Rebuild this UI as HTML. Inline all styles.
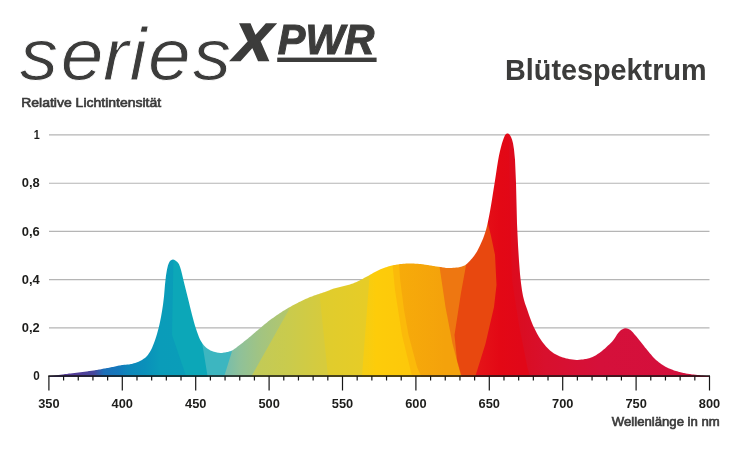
<!DOCTYPE html>
<html lang="de"><head><meta charset="utf-8"><title>series X PWR – Blütespektrum</title>
<style>
html,body{margin:0;padding:0;background:#fff;}
body{width:736px;height:457px;overflow:hidden;font-family:"Liberation Sans",sans-serif;}
svg{display:block;}
.g line{stroke:#b5b5b5;stroke-width:1.1;}
.t line{stroke:#161616;stroke-width:1.2;}
.lab text{font-family:"Liberation Sans",sans-serif;font-weight:bold;font-size:13.3px;fill:#1d1d1b;}
.cap{font-family:"Liberation Sans",sans-serif;font-size:13.4px;fill:#3a3a3a;stroke:#3a3a3a;stroke-width:.65;}
.logo{font-family:"Liberation Sans",sans-serif;fill:#3c3c3b;}
</style></head><body>
<svg width="736" height="457" viewBox="0 0 736 457">
<defs><linearGradient id="g1" gradientUnits="userSpaceOnUse" x1="49" y1="0" x2="215" y2="0"><stop offset="0.0000" stop-color="#5b3b95"/><stop offset="0.1867" stop-color="#523f99"/><stop offset="0.2711" stop-color="#46479d"/><stop offset="0.3313" stop-color="#1c70b9"/><stop offset="0.4157" stop-color="#1478bc"/><stop offset="0.4759" stop-color="#0d87bb"/><stop offset="0.5843" stop-color="#0a91ba"/><stop offset="0.6687" stop-color="#0a9cb9"/><stop offset="1.0000" stop-color="#0a9eb9"/></linearGradient><linearGradient id="g2" gradientUnits="userSpaceOnUse" x1="224" y1="0" x2="290" y2="0"><stop offset="0.0000" stop-color="#74bdae"/><stop offset="0.2424" stop-color="#8fc199"/><stop offset="0.5758" stop-color="#a3c480"/><stop offset="1.0000" stop-color="#b4c76a"/></linearGradient><linearGradient id="g3" gradientUnits="userSpaceOnUse" x1="255" y1="0" x2="322" y2="0"><stop offset="0.0000" stop-color="#c2ca58"/><stop offset="0.5224" stop-color="#cacb4c"/><stop offset="1.0000" stop-color="#d6cb3d"/></linearGradient><linearGradient id="g4" gradientUnits="userSpaceOnUse" x1="318" y1="0" x2="364" y2="0"><stop offset="0.0000" stop-color="#dfcc2e"/><stop offset="1.0000" stop-color="#e6cc27"/></linearGradient><linearGradient id="g5" gradientUnits="userSpaceOnUse" x1="366" y1="0" x2="410" y2="0"><stop offset="0.0000" stop-color="#f6cd13"/><stop offset="0.2273" stop-color="#fdcc0a"/><stop offset="1.0000" stop-color="#fdc80a"/></linearGradient><linearGradient id="g6" gradientUnits="userSpaceOnUse" x1="399" y1="0" x2="445" y2="0"><stop offset="0.0000" stop-color="#f7ab0a"/><stop offset="1.0000" stop-color="#f4a20b"/></linearGradient><linearGradient id="g7" gradientUnits="userSpaceOnUse" x1="477" y1="0" x2="520" y2="0"><stop offset="0.0000" stop-color="#e51418"/><stop offset="0.5349" stop-color="#e30815"/><stop offset="1.0000" stop-color="#e10718"/></linearGradient><linearGradient id="g8" gradientUnits="userSpaceOnUse" x1="508" y1="0" x2="709" y2="0"><stop offset="0.0000" stop-color="#df0a1b"/><stop offset="0.0697" stop-color="#da0d22"/><stop offset="0.1841" stop-color="#d8102d"/><stop offset="0.4577" stop-color="#d5103a"/><stop offset="1.0000" stop-color="#d40f3d"/></linearGradient><mask id="cv" maskUnits="userSpaceOnUse" x="0" y="0" width="736" height="457"><path d="M49,377 L49.0,376.2 L50.0,376.1 L51.0,375.9 L52.0,375.8 L53.0,375.7 L54.0,375.6 L55.0,375.4 L56.0,375.3 L57.0,375.2 L58.0,375.0 L59.0,374.9 L60.0,374.8 L61.0,374.7 L62.0,374.5 L63.0,374.4 L64.0,374.3 L65.0,374.1 L66.0,374.0 L67.0,373.9 L68.0,373.8 L69.0,373.6 L70.0,373.5 L71.0,373.4 L72.0,373.3 L73.0,373.2 L74.0,373.0 L75.0,372.9 L76.0,372.8 L77.0,372.7 L78.0,372.6 L79.0,372.4 L80.0,372.3 L81.0,372.2 L82.0,372.1 L83.0,371.9 L84.0,371.8 L85.0,371.7 L86.0,371.5 L87.0,371.4 L88.0,371.3 L89.0,371.1 L90.0,371.0 L91.0,370.8 L92.0,370.7 L93.0,370.5 L94.0,370.4 L95.0,370.2 L96.0,370.0 L97.0,369.9 L98.0,369.7 L99.0,369.5 L100.0,369.4 L101.0,369.2 L102.0,369.0 L103.0,368.8 L104.0,368.6 L105.0,368.4 L106.0,368.3 L107.0,368.1 L108.0,367.9 L109.0,367.7 L110.0,367.5 L111.0,367.3 L112.0,367.1 L113.0,366.9 L114.0,366.7 L115.0,366.4 L116.0,366.2 L117.0,366.0 L118.0,365.8 L119.0,365.6 L120.0,365.4 L121.0,365.2 L122.0,365.1 L123.0,364.9 L124.0,364.8 L125.0,364.8 L126.0,364.7 L127.0,364.6 L128.0,364.5 L129.0,364.4 L130.0,364.3 L131.0,364.1 L132.0,363.9 L133.0,363.6 L134.0,363.3 L135.0,363.0 L136.0,362.7 L137.0,362.3 L138.0,361.9 L139.0,361.5 L140.0,361.0 L141.0,360.5 L142.0,359.9 L143.0,359.3 L144.0,358.6 L145.0,357.9 L146.0,357.0 L147.0,356.0 L148.0,354.7 L149.0,353.3 L150.0,351.7 L151.0,350.0 L152.0,347.9 L153.0,345.6 L154.0,343.0 L155.0,340.3 L156.0,337.3 L157.0,334.0 L158.0,330.3 L159.0,326.4 L160.0,322.0 L161.0,316.9 L162.0,311.3 L163.0,304.7 L164.0,296.5 L165.0,284.6 L166.0,275.6 L167.0,269.5 L168.0,265.3 L169.0,262.7 L170.0,261.0 L171.0,260.2 L172.0,259.7 L173.0,259.5 L174.0,259.8 L175.0,260.3 L176.0,260.9 L177.0,261.7 L178.0,262.8 L179.0,264.3 L180.0,266.8 L181.0,270.0 L182.0,273.9 L183.0,278.2 L184.0,282.4 L185.0,286.4 L186.0,290.4 L187.0,294.5 L188.0,298.5 L189.0,302.6 L190.0,306.7 L191.0,310.8 L192.0,314.8 L193.0,318.6 L194.0,322.2 L195.0,325.7 L196.0,328.8 L197.0,331.8 L198.0,334.6 L199.0,337.2 L200.0,339.4 L201.0,341.2 L202.0,342.8 L203.0,344.2 L204.0,345.5 L205.0,346.5 L206.0,347.4 L207.0,348.3 L208.0,349.0 L209.0,349.6 L210.0,350.2 L211.0,350.7 L212.0,351.1 L213.0,351.5 L214.0,351.8 L215.0,352.0 L216.0,352.3 L217.0,352.5 L218.0,352.7 L219.0,352.8 L220.0,352.9 L221.0,352.9 L222.0,352.9 L223.0,352.8 L224.0,352.6 L225.0,352.5 L226.0,352.3 L227.0,352.1 L228.0,351.9 L229.0,351.6 L230.0,351.3 L231.0,350.9 L232.0,350.5 L233.0,350.0 L234.0,349.3 L235.0,348.6 L236.0,347.9 L237.0,347.1 L238.0,346.3 L239.0,345.5 L240.0,344.7 L241.0,343.9 L242.0,343.2 L243.0,342.4 L244.0,341.6 L245.0,340.8 L246.0,340.0 L247.0,339.2 L248.0,338.4 L249.0,337.5 L250.0,336.7 L251.0,335.9 L252.0,335.0 L253.0,334.2 L254.0,333.3 L255.0,332.4 L256.0,331.6 L257.0,330.7 L258.0,329.9 L259.0,329.0 L260.0,328.2 L261.0,327.4 L262.0,326.5 L263.0,325.7 L264.0,324.8 L265.0,324.0 L266.0,323.2 L267.0,322.4 L268.0,321.6 L269.0,320.8 L270.0,320.1 L271.0,319.3 L272.0,318.6 L273.0,317.9 L274.0,317.2 L275.0,316.5 L276.0,315.8 L277.0,315.1 L278.0,314.4 L279.0,313.7 L280.0,313.1 L281.0,312.4 L282.0,311.8 L283.0,311.1 L284.0,310.5 L285.0,309.9 L286.0,309.3 L287.0,308.7 L288.0,308.1 L289.0,307.5 L290.0,307.0 L291.0,306.4 L292.0,305.8 L293.0,305.3 L294.0,304.8 L295.0,304.2 L296.0,303.7 L297.0,303.2 L298.0,302.7 L299.0,302.1 L300.0,301.7 L301.0,301.2 L302.0,300.7 L303.0,300.2 L304.0,299.7 L305.0,299.3 L306.0,298.8 L307.0,298.4 L308.0,298.0 L309.0,297.5 L310.0,297.1 L311.0,296.7 L312.0,296.4 L313.0,296.0 L314.0,295.6 L315.0,295.3 L316.0,294.9 L317.0,294.6 L318.0,294.2 L319.0,293.9 L320.0,293.5 L321.0,293.2 L322.0,292.9 L323.0,292.5 L324.0,292.2 L325.0,291.9 L326.0,291.5 L327.0,291.2 L328.0,290.8 L329.0,290.4 L330.0,290.0 L331.0,289.6 L332.0,289.2 L333.0,288.8 L334.0,288.5 L335.0,288.2 L336.0,287.9 L337.0,287.7 L338.0,287.4 L339.0,287.2 L340.0,287.0 L341.0,286.8 L342.0,286.5 L343.0,286.3 L344.0,286.1 L345.0,285.8 L346.0,285.6 L347.0,285.3 L348.0,285.0 L349.0,284.7 L350.0,284.4 L351.0,284.1 L352.0,283.7 L353.0,283.4 L354.0,283.0 L355.0,282.6 L356.0,282.2 L357.0,281.7 L358.0,281.3 L359.0,280.8 L360.0,280.3 L361.0,279.7 L362.0,279.2 L363.0,278.7 L364.0,278.1 L365.0,277.6 L366.0,277.1 L367.0,276.5 L368.0,275.9 L369.0,275.4 L370.0,274.8 L371.0,274.2 L372.0,273.7 L373.0,273.1 L374.0,272.6 L375.0,272.0 L376.0,271.5 L377.0,270.9 L378.0,270.4 L379.0,269.9 L380.0,269.5 L381.0,269.1 L382.0,268.7 L383.0,268.3 L384.0,268.0 L385.0,267.6 L386.0,267.3 L387.0,266.9 L388.0,266.6 L389.0,266.3 L390.0,266.0 L391.0,265.7 L392.0,265.5 L393.0,265.3 L394.0,265.1 L395.0,264.9 L396.0,264.7 L397.0,264.5 L398.0,264.4 L399.0,264.2 L400.0,264.1 L401.0,264.0 L402.0,263.9 L403.0,263.8 L404.0,263.7 L405.0,263.7 L406.0,263.6 L407.0,263.6 L408.0,263.5 L409.0,263.5 L410.0,263.5 L411.0,263.5 L412.0,263.5 L413.0,263.6 L414.0,263.6 L415.0,263.7 L416.0,263.7 L417.0,263.8 L418.0,263.8 L419.0,263.9 L420.0,264.0 L421.0,264.1 L422.0,264.2 L423.0,264.3 L424.0,264.5 L425.0,264.7 L426.0,264.8 L427.0,265.0 L428.0,265.1 L429.0,265.3 L430.0,265.4 L431.0,265.6 L432.0,265.8 L433.0,265.9 L434.0,266.1 L435.0,266.2 L436.0,266.4 L437.0,266.5 L438.0,266.7 L439.0,266.8 L440.0,267.0 L441.0,267.1 L442.0,267.3 L443.0,267.5 L444.0,267.6 L445.0,267.7 L446.0,267.9 L447.0,267.9 L448.0,268.0 L449.0,268.0 L450.0,268.0 L451.0,268.0 L452.0,267.9 L453.0,267.8 L454.0,267.8 L455.0,267.7 L456.0,267.6 L457.0,267.5 L458.0,267.4 L459.0,267.2 L460.0,267.0 L461.0,266.8 L462.0,266.5 L463.0,266.1 L464.0,265.7 L465.0,265.2 L466.0,264.5 L467.0,263.7 L468.0,262.8 L469.0,261.7 L470.0,260.7 L471.0,259.6 L472.0,258.5 L473.0,257.2 L474.0,255.9 L475.0,254.5 L476.0,253.0 L477.0,251.4 L478.0,249.6 L479.0,247.6 L480.0,245.5 L481.0,243.3 L482.0,241.1 L483.0,238.7 L484.0,236.0 L485.0,233.1 L486.0,229.9 L487.0,226.0 L488.0,221.5 L489.0,216.5 L490.0,211.3 L491.0,205.5 L492.0,199.4 L493.0,193.1 L494.0,186.8 L495.0,180.6 L496.0,174.0 L497.0,167.3 L498.0,161.0 L499.0,155.5 L500.0,151.0 L501.0,146.9 L502.0,143.3 L503.0,140.2 L504.0,137.5 L505.0,135.3 L506.0,134.1 L507.0,133.4 L508.0,133.4 L509.0,134.1 L510.0,135.2 L511.0,136.9 L512.0,139.4 L513.0,143.3 L514.0,149.5 L515.0,159.8 L516.0,183.1 L517.0,223.6 L518.0,244.9 L519.0,261.0 L520.0,273.9 L521.0,283.3 L522.0,290.5 L523.0,296.0 L524.0,300.1 L525.0,303.4 L526.0,306.3 L527.0,309.1 L528.0,312.1 L529.0,315.0 L530.0,317.8 L531.0,320.5 L532.0,323.0 L533.0,325.4 L534.0,327.6 L535.0,329.6 L536.0,331.6 L537.0,333.4 L538.0,335.2 L539.0,336.9 L540.0,338.5 L541.0,339.9 L542.0,341.4 L543.0,342.7 L544.0,344.1 L545.0,345.3 L546.0,346.5 L547.0,347.6 L548.0,348.6 L549.0,349.6 L550.0,350.4 L551.0,351.3 L552.0,352.0 L553.0,352.7 L554.0,353.4 L555.0,354.0 L556.0,354.6 L557.0,355.1 L558.0,355.6 L559.0,356.0 L560.0,356.5 L561.0,356.8 L562.0,357.2 L563.0,357.5 L564.0,357.8 L565.0,358.1 L566.0,358.4 L567.0,358.6 L568.0,358.8 L569.0,359.0 L570.0,359.2 L571.0,359.3 L572.0,359.5 L573.0,359.6 L574.0,359.7 L575.0,359.8 L576.0,359.9 L577.0,359.9 L578.0,359.9 L579.0,359.8 L580.0,359.7 L581.0,359.6 L582.0,359.5 L583.0,359.4 L584.0,359.2 L585.0,359.1 L586.0,358.9 L587.0,358.7 L588.0,358.5 L589.0,358.2 L590.0,357.9 L591.0,357.5 L592.0,357.2 L593.0,356.8 L594.0,356.3 L595.0,355.8 L596.0,355.2 L597.0,354.5 L598.0,353.8 L599.0,353.2 L600.0,352.5 L601.0,351.7 L602.0,350.9 L603.0,350.1 L604.0,349.3 L605.0,348.4 L606.0,347.5 L607.0,346.6 L608.0,345.6 L609.0,344.7 L610.0,343.7 L611.0,342.8 L612.0,341.7 L613.0,340.6 L614.0,339.3 L615.0,337.7 L616.0,336.2 L617.0,334.6 L618.0,333.3 L619.0,332.1 L620.0,331.0 L621.0,330.1 L622.0,329.5 L623.0,329.0 L624.0,328.5 L625.0,328.3 L626.0,328.3 L627.0,328.5 L628.0,328.8 L629.0,329.2 L630.0,329.7 L631.0,330.4 L632.0,331.5 L633.0,332.6 L634.0,333.7 L635.0,334.9 L636.0,336.1 L637.0,337.3 L638.0,338.6 L639.0,339.8 L640.0,341.0 L641.0,342.2 L642.0,343.5 L643.0,344.8 L644.0,346.1 L645.0,347.4 L646.0,348.6 L647.0,349.8 L648.0,351.0 L649.0,352.2 L650.0,353.4 L651.0,354.6 L652.0,355.7 L653.0,356.9 L654.0,358.0 L655.0,359.0 L656.0,359.9 L657.0,360.8 L658.0,361.6 L659.0,362.4 L660.0,363.1 L661.0,363.9 L662.0,364.5 L663.0,365.2 L664.0,365.8 L665.0,366.4 L666.0,366.9 L667.0,367.5 L668.0,367.9 L669.0,368.4 L670.0,368.8 L671.0,369.2 L672.0,369.6 L673.0,370.0 L674.0,370.4 L675.0,370.7 L676.0,371.0 L677.0,371.3 L678.0,371.6 L679.0,371.9 L680.0,372.1 L681.0,372.4 L682.0,372.6 L683.0,372.9 L684.0,373.1 L685.0,373.3 L686.0,373.5 L687.0,373.7 L688.0,373.8 L689.0,374.0 L690.0,374.1 L691.0,374.3 L692.0,374.4 L693.0,374.5 L694.0,374.6 L695.0,374.7 L696.0,374.8 L697.0,374.9 L698.0,375.0 L699.0,375.1 L700.0,375.3 L701.0,375.4 L702.0,375.5 L703.0,375.6 L704.0,375.7 L705.0,375.8 L706.0,375.9 L707.0,376.0 L708.0,376.1 L709.0,376.2 L709.5,377 Z" fill="#fff"/></mask></defs>
<rect width="736" height="457" fill="#fff"/>
<g class="g"><line x1="49" x2="709.5" y1="134.9" y2="134.9"/><line x1="49" x2="709.5" y1="183.2" y2="183.2"/><line x1="49" x2="709.5" y1="231.4" y2="231.4"/><line x1="49" x2="709.5" y1="279.6" y2="279.6"/><line x1="49" x2="709.5" y1="327.9" y2="327.9"/></g>
<g mask="url(#cv)"><polygon points="40.0,100.0 40.0,380.0 720,380 720,100" fill="url(#g1)"/><polygon points="176.4,100.0 173.5,255.0 172.0,335.0 186.0,376.0 187.4,380.0 720,380 720,100" fill="#0ca7b8"/><polygon points="158.3,100.0 201.5,340.0 203.3,350.0 207.6,376.5 208.2,380.0 720,380 720,100" fill="#3db6c0"/><polygon points="278.7,100.0 233.0,345.0 231.6,352.5 224.6,375.0 223.0,380.0 720,380 720,100" fill="url(#g2)"/><polygon points="384.2,100.0 291.0,305.0 288.5,310.5 255.0,370.0 249.4,380.0 720,380 720,100" fill="url(#g3)"/><polygon points="299.2,100.0 318.0,280.0 328.0,376.0 328.4,380.0 720,380 720,100" fill="url(#g4)"/><polygon points="382.8,100.0 370.0,270.0 362.0,376.0 361.7,380.0 720,380 720,100" fill="url(#g5)"/><polygon points="376.7,100.0 392.5,264.0 395.0,290.0 402.0,335.0 412.0,376.0 413.0,380.0 720,380 720,100" fill="#fbba0a"/><polygon points="387.7,100.0 399.0,264.0 400.0,278.5 404.0,310.0 408.5,335.0 417.0,367.0 421.0,376.0 422.8,380.0 720,380 720,100" fill="url(#g6)"/><polygon points="414.9,100.0 439.8,268.5 445.5,307.0 452.6,344.0 461.0,376.0 462.1,380.0 720,380 720,100" fill="#ee7711"/><polygon points="496.6,100.0 466.0,265.6 461.0,292.7 454.5,335.0 457.0,360.0 461.5,376.0 462.6,380.0 720,380 720,100" fill="#e8480f"/><polygon points="457.5,100.0 487.8,223.0 491.0,236.0 495.0,255.0 496.5,285.0 494.0,307.0 485.4,344.0 475.4,376.0 474.1,380.0 720,380 720,100" fill="url(#g7)"/><polygon points="508.1,100.0 509.0,150.0 510.0,205.0 512.0,280.0 518.8,324.0 527.5,368.0 530.0,376.0 531.2,380.0 720,380 720,100" fill="url(#g8)"/></g>
<g class="t"><line x1="48.3" x2="710" y1="376.1" y2="376.1" style="stroke-width:1.5"/><line x1="48.90" x2="48.90" y1="376" y2="390.5"/><line x1="63.58" x2="63.58" y1="376" y2="380.5"/><line x1="78.26" x2="78.26" y1="376" y2="380.5"/><line x1="92.94" x2="92.94" y1="376" y2="380.5"/><line x1="107.62" x2="107.62" y1="376" y2="380.5"/><line x1="122.30" x2="122.30" y1="376" y2="390.5"/><line x1="136.98" x2="136.98" y1="376" y2="380.5"/><line x1="151.66" x2="151.66" y1="376" y2="380.5"/><line x1="166.34" x2="166.34" y1="376" y2="380.5"/><line x1="181.02" x2="181.02" y1="376" y2="380.5"/><line x1="195.70" x2="195.70" y1="376" y2="390.5"/><line x1="210.38" x2="210.38" y1="376" y2="380.5"/><line x1="225.06" x2="225.06" y1="376" y2="380.5"/><line x1="239.74" x2="239.74" y1="376" y2="380.5"/><line x1="254.42" x2="254.42" y1="376" y2="380.5"/><line x1="269.10" x2="269.10" y1="376" y2="390.5"/><line x1="283.78" x2="283.78" y1="376" y2="380.5"/><line x1="298.46" x2="298.46" y1="376" y2="380.5"/><line x1="313.14" x2="313.14" y1="376" y2="380.5"/><line x1="327.82" x2="327.82" y1="376" y2="380.5"/><line x1="342.50" x2="342.50" y1="376" y2="390.5"/><line x1="357.18" x2="357.18" y1="376" y2="380.5"/><line x1="371.86" x2="371.86" y1="376" y2="380.5"/><line x1="386.54" x2="386.54" y1="376" y2="380.5"/><line x1="401.22" x2="401.22" y1="376" y2="380.5"/><line x1="415.90" x2="415.90" y1="376" y2="390.5"/><line x1="430.58" x2="430.58" y1="376" y2="380.5"/><line x1="445.26" x2="445.26" y1="376" y2="380.5"/><line x1="459.94" x2="459.94" y1="376" y2="380.5"/><line x1="474.62" x2="474.62" y1="376" y2="380.5"/><line x1="489.30" x2="489.30" y1="376" y2="390.5"/><line x1="503.98" x2="503.98" y1="376" y2="380.5"/><line x1="518.66" x2="518.66" y1="376" y2="380.5"/><line x1="533.34" x2="533.34" y1="376" y2="380.5"/><line x1="548.02" x2="548.02" y1="376" y2="380.5"/><line x1="562.70" x2="562.70" y1="376" y2="390.5"/><line x1="577.38" x2="577.38" y1="376" y2="380.5"/><line x1="592.06" x2="592.06" y1="376" y2="380.5"/><line x1="606.74" x2="606.74" y1="376" y2="380.5"/><line x1="621.42" x2="621.42" y1="376" y2="380.5"/><line x1="636.10" x2="636.10" y1="376" y2="390.5"/><line x1="650.78" x2="650.78" y1="376" y2="380.5"/><line x1="665.46" x2="665.46" y1="376" y2="380.5"/><line x1="680.14" x2="680.14" y1="376" y2="380.5"/><line x1="694.82" x2="694.82" y1="376" y2="380.5"/><line x1="709.50" x2="709.50" y1="376" y2="390.5"/></g>
<g class="lab"><text x="48.9" y="407.5" text-anchor="middle" textLength="21.4" lengthAdjust="spacingAndGlyphs">350</text><text x="122.3" y="407.5" text-anchor="middle" textLength="21.4" lengthAdjust="spacingAndGlyphs">400</text><text x="195.7" y="407.5" text-anchor="middle" textLength="21.4" lengthAdjust="spacingAndGlyphs">450</text><text x="269.1" y="407.5" text-anchor="middle" textLength="21.4" lengthAdjust="spacingAndGlyphs">500</text><text x="342.5" y="407.5" text-anchor="middle" textLength="21.4" lengthAdjust="spacingAndGlyphs">550</text><text x="415.9" y="407.5" text-anchor="middle" textLength="21.4" lengthAdjust="spacingAndGlyphs">600</text><text x="489.3" y="407.5" text-anchor="middle" textLength="21.4" lengthAdjust="spacingAndGlyphs">650</text><text x="562.7" y="407.5" text-anchor="middle" textLength="21.4" lengthAdjust="spacingAndGlyphs">700</text><text x="636.1" y="407.5" text-anchor="middle" textLength="21.4" lengthAdjust="spacingAndGlyphs">750</text><text x="709.5" y="407.5" text-anchor="middle" textLength="21.4" lengthAdjust="spacingAndGlyphs">800</text><text x="39.8" y="139.0" text-anchor="end" textLength="6" lengthAdjust="spacingAndGlyphs">1</text><text x="39.8" y="187.2" text-anchor="end" textLength="18" lengthAdjust="spacingAndGlyphs">0,8</text><text x="39.8" y="235.5" text-anchor="end" textLength="18" lengthAdjust="spacingAndGlyphs">0,6</text><text x="39.8" y="283.8" text-anchor="end" textLength="18" lengthAdjust="spacingAndGlyphs">0,4</text><text x="39.8" y="332.0" text-anchor="end" textLength="18" lengthAdjust="spacingAndGlyphs">0,2</text><text x="39.8" y="380.2" text-anchor="end" textLength="6.5" lengthAdjust="spacingAndGlyphs">0</text></g>
<text class="cap" x="21.2" y="107.3" textLength="140" lengthAdjust="spacingAndGlyphs">Relative Lichtintensität</text>
<text class="cap" x="719.8" y="425.7" text-anchor="end" textLength="108" lengthAdjust="spacingAndGlyphs">Wellenlänge in nm</text>
<text class="logo" x="505" y="80" textLength="201.6" lengthAdjust="spacingAndGlyphs" style="font-weight:bold;font-size:29.5px">Blütespektrum</text>
<text class="logo" transform="scale(1.029,1)" x="19.19 59.09 100.05 125.85 143.73 187.32" y="79.9" style="font-style:italic;font-size:74.5px;stroke:#fff;stroke-width:0.9;paint-order:fill stroke">series</text>
<text class="logo" transform="translate(231.3,60.1) skewX(-13.2)" x="0" y="0" textLength="36.6" lengthAdjust="spacingAndGlyphs" style="font-weight:bold;font-size:51.6px;stroke:#3c3c3b;stroke-width:2.4">X</text>
<text class="logo" x="277.8" y="54.1" textLength="96.6" lengthAdjust="spacingAndGlyphs" style="font-style:italic;font-weight:bold;font-size:42px;stroke:#3c3c3b;stroke-width:1">PWR</text>
<rect x="277.2" y="57.6" width="99.4" height="4.4" fill="#3c3c3b"/>
</svg>
</body></html>
